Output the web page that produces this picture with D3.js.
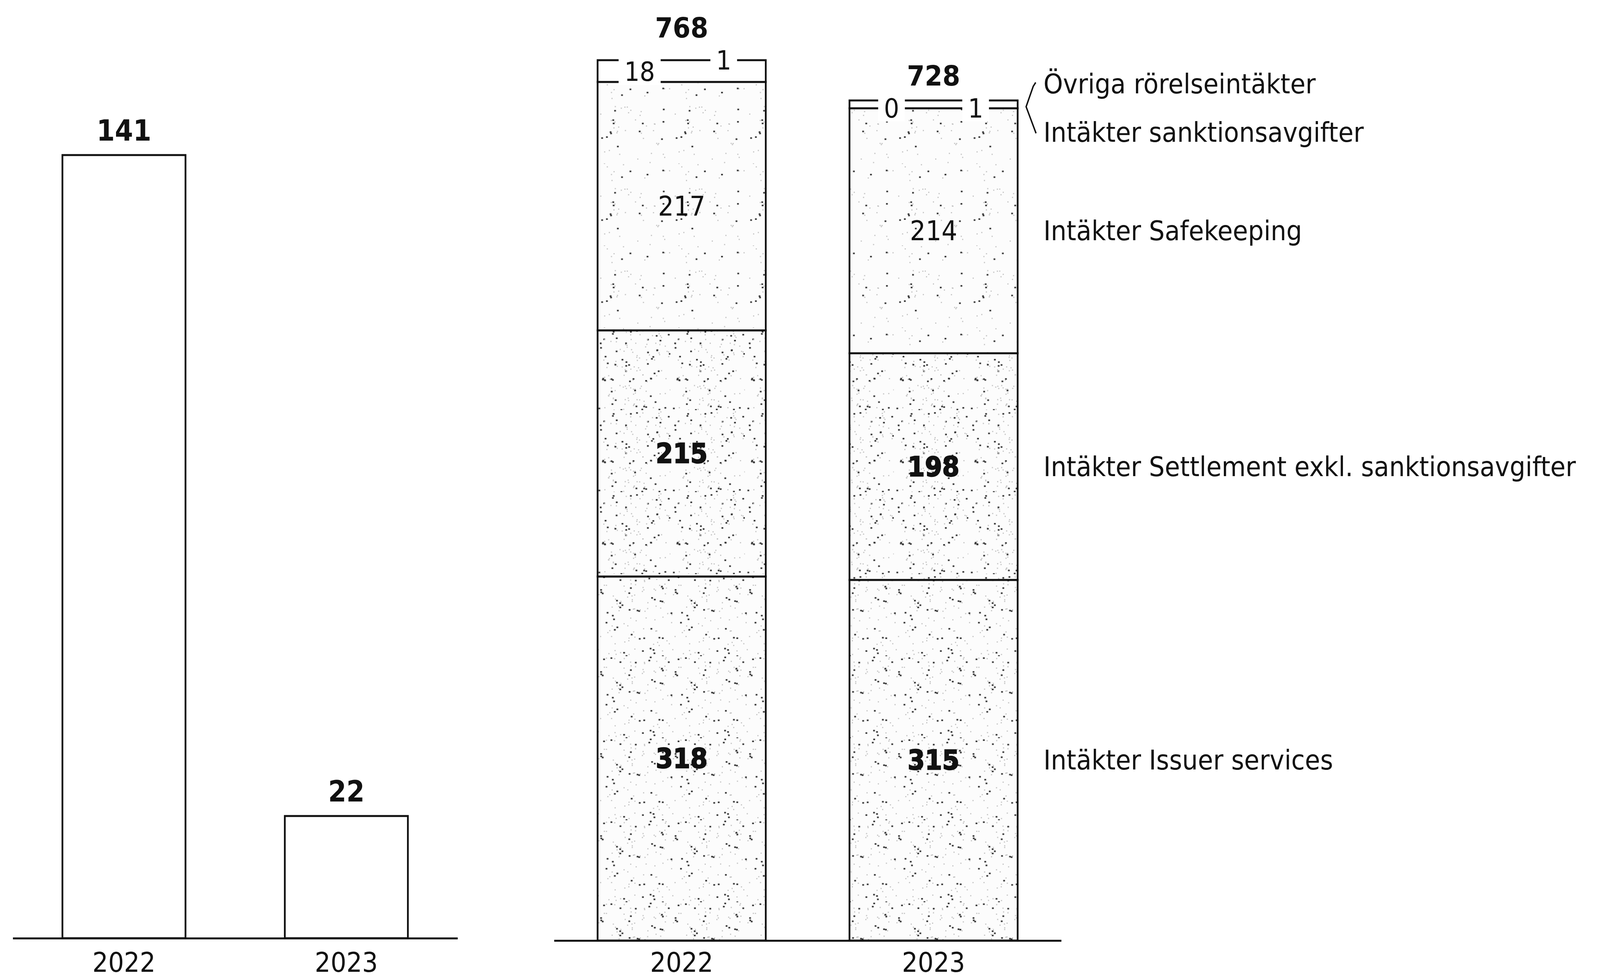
<!DOCTYPE html>
<html>
<head>
<meta charset="utf-8">
<script src="https://cdn.jsdelivr.net/npm/d3@7"></script>
<style>
	html, body { margin: 0; padding: 0; background: #fff; overflow: hidden; }
	svg { display: block; width: 100vw; height: 100vh; }
	text { font-family: "DejaVu Sans", Verdana, sans-serif; fill: #111; }
</style>
</head>
<body>
<div id="chart"></div>
<script>
var years = ["2022", "2023"];

// left chart
var leftValues = [141, 22];

// right chart, stacked bottom to top
var issuer = [318, 315];
var settlement = [215, 198];
var safekeeping = [217, 214];
var sanktion = [18, 0];
var ovriga = [1, 1];
var totals = [768, 728];

var seriesKeys = ["issuer", "settlement", "safekeeping", "sanktion", "ovriga"];
var seriesLabels = {
	issuer: "Intäkter Issuer services",
	settlement: "Intäkter Settlement exkl. sanktionsavgifter",
	safekeeping: "Intäkter Safekeeping",
	sanktion: "Intäkter sanktionsavgifter",
	ovriga: "Övriga rörelseintäkter"
};

// drawing space, stretched to the window
var W = 4511, H = 2509;
var canvas = {};

function addCanvas(cont) {
	canvas.svg = d3.select(cont).append("svg")
		.attr("viewBox", "0 0 " + W + " " + H)
		.attr("preserveAspectRatio", "none");
	canvas.svg.append("rect")
		.attr("width", W)
		.attr("height", H)
		.attr("fill", "#fff");
	canvas.defs = canvas.svg.append("defs");
}

// speckled fill, like the scanned original
function addSpeckle(id, count, seed) {
	var s = seed;
	function next() {
		s = (s * 1103515245 + 12345) % 2147483648;
		return s / 2147483648;
	}
	var size = 210;
	var p = canvas.defs.append("pattern")
		.attr("id", id)
		.attr("patternUnits", "userSpaceOnUse")
		.attr("width", size)
		.attr("height", size);
	p.append("rect").attr("width", size).attr("height", size).attr("fill", "#fcfcfc");
	for (var i = 0; i < count; i++) {
		var dark = next() < 0.35;
		p.append("rect")
			.attr("x", next() * size)
			.attr("y", next() * size)
			.attr("width", dark ? 5 : 3)
			.attr("height", dark ? 4 : 3)
			.attr("fill", dark ? "#3a3a3a" : "#c0c0c0");
	}
}

function drawLeft() {
	var g = canvas.svg.append("g");

	var x = d3.scaleBand()
		.domain(years)
		.range([36, 1290])
		.paddingInner(0.4466)
		.paddingOuter(0.2233);
	var y = d3.scaleLinear()
		.domain([0, 141])
		.range([2402, 397]);

	g.selectAll(".bar")
		.data(leftValues)
		.enter()
		.append("rect")
		.attr("x", (d, i) => x(years[i]))
		.attr("y", (d) => y(d))
		.attr("width", x.bandwidth())
		.attr("height", (d) => y(0) - y(d))
		.attr("fill", "#fff")
		.attr("stroke", "#111")
		.attr("stroke-width", 5);

	g.selectAll(".val")
		.data(leftValues)
		.enter()
		.append("text")
		.attr("x", (d, i) => x(years[i]) + x.bandwidth() / 2)
		.attr("y", (d) => y(d) - 37)
		.attr("text-anchor", "middle")
		.attr("font-size", 74)
		.attr("font-weight", "bold")
		.text((d) => d);

	var axis = g.append("g")
		.attr("transform", "translate(0," + y(0) + ")")
		.call(d3.axisBottom(x).tickSize(0).tickSizeOuter(0).tickPadding(36));
	axis.select(".domain").attr("stroke", "#111").attr("stroke-width", 5);
	axis.selectAll("text")
		.attr("font-size", 70)
		.attr("font-family", "DejaVu Sans")
		.attr("fill", "#111");
}

function labelWithBg(g, x, y, txt) {
	var t = g.append("text")
		.attr("x", x)
		.attr("y", y)
		.attr("text-anchor", "middle")
		.attr("dominant-baseline", "central")
		.attr("font-size", 68)
		.text(txt);
	var b = t.node().getBBox();
	g.insert("rect", "text")
		.attr("x", b.x - 16)
		.attr("y", y - 34)
		.attr("width", b.width + 32)
		.attr("height", 68)
		.attr("fill", "#fff");
	return t;
}

function drawRight() {
	var g = canvas.svg.append("g");

	var table = years.map((yr, i) => ({
		year: yr,
		issuer: issuer[i],
		settlement: settlement[i],
		safekeeping: safekeeping[i],
		sanktion: sanktion[i],
		ovriga: ovriga[i]
	}));
	var series = d3.stack().keys(seriesKeys)(table);

	var x = d3.scaleBand()
		.domain(years)
		.range([1562, 2992])
		.paddingInner(0.3324)
		.paddingOuter(0.173);
	var y = d3.scaleLinear()
		.domain([0, 768])
		.range([2408, 157]);

	var fills = {
		issuer: "url(#sp-issuer)",
		settlement: "url(#sp-settle)",
		safekeeping: "url(#sp-safe)"
	};

	// big segments
	series.filter((s) => fills[s.key]).forEach((s) => {
		g.selectAll(".seg-" + s.key)
			.data(s)
			.enter()
			.append("rect")
			.attr("x", (d) => x(d.data.year))
			.attr("y", (d) => y(d[1]))
			.attr("width", x.bandwidth())
			.attr("height", (d) => y(d[0]) - y(d[1]))
			.attr("fill", fills[s.key])
			.attr("stroke", "#111")
			.attr("stroke-width", 5);

		g.selectAll(".lab-" + s.key)
			.data(s)
			.enter()
			.append("text")
			.attr("x", (d) => x(d.data.year) + x.bandwidth() / 2)
			.attr("y", (d) => (y(d[0]) + y(d[1])) / 2)
			.attr("text-anchor", "middle")
			.attr("dominant-baseline", "central")
			.attr("font-size", 70)
			.attr("font-weight", s.key == "safekeeping" ? "normal" : "bold")
			.attr("fill", s.key == "safekeeping" ? "#111" : "#e6e6e6")
			.attr("stroke", s.key == "safekeeping" ? "none" : "#111")
			.attr("stroke-width", 2.5)
			.text((d) => d.data[s.key]);
	});

	// small segments on top, drawn as one labelled band
	var sSeries = series.find((s) => s.key == "sanktion");
	var oSeries = series.find((s) => s.key == "ovriga");
	var bands = [];
	years.forEach((yr, i) => {
		var bottom = y(sSeries[i][0]);
		var top = Math.min(y(oSeries[i][1]), bottom - 20);
		var tall = bottom - top > 30;
		var left = x(yr), w = x.bandwidth();
		var bg = g.append("g");
		bg.append("rect")
			.attr("x", left)
			.attr("y", top)
			.attr("width", w)
			.attr("height", bottom - top)
			.attr("fill", "#fff")
			.attr("stroke", "#111")
			.attr("stroke-width", 5);

		var sy = tall ? (y(sSeries[i][0]) + y(sSeries[i][1])) / 2 : bottom;
		var oy = tall ? top : bottom;
		labelWithBg(bg, left + w * 0.25, sy, sanktion[i]);
		labelWithBg(bg, left + w * 0.75, oy, ovriga[i]);

		g.append("text")
			.attr("x", left + w / 2)
			.attr("y", Math.min(sy, oy) - 58)
			.attr("text-anchor", "middle")
			.attr("font-size", 72)
			.attr("font-weight", "bold")
			.text(totals[i]);

		bands.push({ top: top, bottom: bottom });
	});

	var axis = g.append("g")
		.attr("transform", "translate(0," + y(0) + ")")
		.call(d3.axisBottom(x).tickSize(0).tickSizeOuter(0).tickPadding(30));
	axis.select(".domain").attr("stroke", "#111").attr("stroke-width", 5);
	axis.selectAll("text")
		.attr("font-size", 70)
		.attr("font-family", "DejaVu Sans")
		.attr("fill", "#111");

	// legend, aligned to the last bar
	var last = years.length - 1;
	var lx = 2942;
	["issuer", "settlement", "safekeeping"].forEach((k) => {
		var s = series.find((d) => d.key == k);
		g.append("text")
			.attr("x", lx)
			.attr("y", (y(s[last][0]) + y(s[last][1])) / 2)
			.attr("dominant-baseline", "central")
			.attr("font-size", 70)
			.text(seriesLabels[k]);
	});

	var bc = (bands[last].top + bands[last].bottom) / 2;
	g.append("text")
		.attr("x", lx)
		.attr("y", bc - 52)
		.attr("dominant-baseline", "central")
		.attr("font-size", 70)
		.text(seriesLabels.ovriga);
	g.append("text")
		.attr("x", lx)
		.attr("y", bc + 72)
		.attr("dominant-baseline", "central")
		.attr("font-size", 70)
		.text(seriesLabels.sanktion);

	g.append("path")
		.attr("d", "M 2920 " + (bc - 56) + " L 2913 " + (bc - 46) + " L 2893 " + (bc + 6) + " L 2921 " + (bc + 74))
		.attr("fill", "none")
		.attr("stroke", "#111")
		.attr("stroke-width", 4);
}

function main() {
	addCanvas("#chart");
	addSpeckle("sp-safe", 60, 7);
	addSpeckle("sp-settle", 160, 19);
	addSpeckle("sp-issuer", 130, 31);
	drawLeft();
	drawRight();
}

main();
</script>
</body>
</html>
